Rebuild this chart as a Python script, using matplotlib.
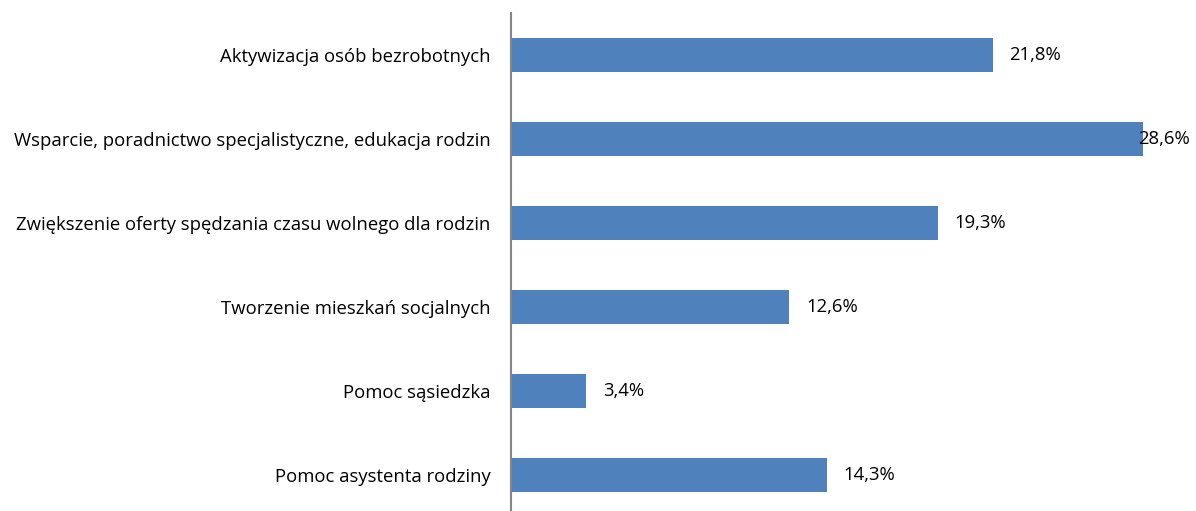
import matplotlib
matplotlib.use('Agg')
import matplotlib.pyplot as plt

kategorie = [
    'Aktywizacja osób bezrobotnych',
    'Wsparcie, poradnictwo specjalistyczne, edukacja rodzin',
    'Zwiększenie oferty spędzania czasu wolnego dla rodzin',
    'Tworzenie mieszkań socjalnych',
    'Pomoc sąsiedzka',
    'Pomoc asystenta rodziny',
]
wartosci = [21.8, 28.6, 19.3, 12.6, 3.4, 14.3]
etykiety = ['21,8%', '28,6%', '19,3%', '12,6%', '3,4%', '14,3%']

plt.rcParams['font.family'] = ['Open Sans', 'DejaVu Sans']

W, H = 1196, 511
fig = plt.figure(figsize=(W / 100, H / 100), dpi=100)
ax = fig.add_axes([511 / W, 0, (1190 - 511) / W, 1 - 13 / H])

pozycje = list(range(len(kategorie)))
ax.barh(pozycje, wartosci, height=0.4, color='#4F81BD')

xmax = (1190 - 511) / 22.1
ax.set_xlim(0, xmax)
ax.set_ylim(5.43, -0.5)

ax.set_yticks(pozycje)
ax.set_yticklabels(kategorie, fontsize=13.3, color='#000000')
ax.tick_params(axis='y', length=0, pad=14.5)
ax.set_xticks([])

for s in ['top', 'right', 'bottom']:
    ax.spines[s].set_visible(False)
ax.spines['left'].set_color('#868686')
ax.spines['left'].set_linewidth(1.5)

for y, v, t in zip(pozycje, wartosci, etykiety):
    if v + 3.3 > xmax:
        ax.text(xmax, y, t, ha='right', va='center', fontsize=13.3)
    else:
        ax.text(v + 0.75, y, t, ha='left', va='center', fontsize=13.3)

fig.savefig('out.png', dpi=100)
